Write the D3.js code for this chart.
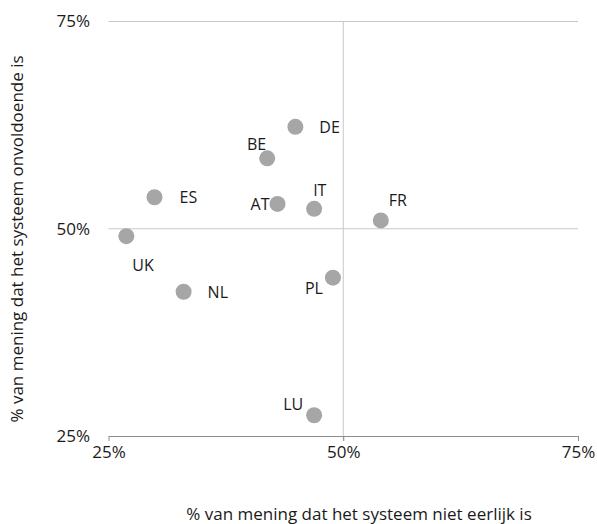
<!DOCTYPE html>
<html lang="nl">
<head>
<meta charset="utf-8">
<script src="https://d3js.org/d3.v7.min.js"></script>
<style>
  body { margin: 0; background: #fff; }
  text { font-family: "Open Sans", sans-serif; fill: #1a1a1a; }
</style>
</head>
<body>
<div id="chart"></div>
<script>
// data
const countries = ["DE", "BE", "ES", "AT", "IT", "FR", "UK", "NL", "PL", "LU"];
const nietEerlijk = [44.9, 41.9, 29.9, 43.0, 46.9, 54.0, 26.9, 33.0, 48.9, 46.9];
const onvoldoende = [62.3, 58.5, 53.8, 53.0, 52.4, 51.0, 49.1, 42.4, 44.1, 27.5];
const ticks = [25, 50, 75];

// label placement per country (dx, dy, anchor)
const labelPos = {
  DE: [24, 1, "start"], BE: [-1, -14, "end"], ES: [25, 0, "start"],
  AT: [-8, 1, "end"], IT: [-1, -18, "start"], FR: [8, -20, "start"],
  UK: [6, 29, "start"], NL: [24, 1, "start"], PL: [-10, 11, "end"],
  LU: [-11, -11, "end"]
};

const W = 597, H = 524;
const fs = "17px";
const svg = d3.select("#chart").append("svg")
  .attr("width", W).attr("height", H);

const x = d3.scaleLinear().domain([25, 75]).range([108.5, 578]);
const y = d3.scaleLinear().domain([25, 75]).range([436, 21.5]);

// horizontal gridlines
svg.selectAll(".hgrid")
  .data([50, 75])
  .join("line")
    .attr("x1", x(25)).attr("x2", x(75))
    .attr("y1", d => y(d)).attr("y2", d => y(d))
    .attr("stroke", "#c8c8c8").attr("stroke-width", 1);

// vertical line at 50%
svg.append("line")
  .attr("x1", x(50)).attr("x2", x(50))
  .attr("y1", y(75)).attr("y2", y(25) + 5)
  .attr("stroke", "#c8c8c8").attr("stroke-width", 1);

// x axis
const xAxis = svg.append("g")
  .attr("transform", `translate(0,${y(25)})`)
  .call(d3.axisBottom(x).tickValues(ticks).tickSize(5).tickSizeOuter(0).tickFormat(d => d + "%"));
xAxis.select(".domain").attr("stroke", "#8c8c8c");
xAxis.selectAll(".tick line").attr("stroke", "#8c8c8c");
xAxis.selectAll(".tick text")
  .attr("y", 10)
  .style("font-size", fs)
  .style("font-family", "Open Sans, sans-serif")
  .attr("fill", "#1a1a1a");

// y tick labels
svg.selectAll(".ylab")
  .data(ticks)
  .join("text")
    .attr("x", 90)
    .attr("y", d => y(d))
    .attr("dy", "0.35em")
    .attr("text-anchor", "end")
    .style("font-size", fs)
    .text(d => d + "%");

// points
const pts = countries.map((c, i) => ({c, x: nietEerlijk[i], y: onvoldoende[i]}));
svg.selectAll(".dot")
  .data(pts)
  .join("circle")
    .attr("cx", d => x(d.x))
    .attr("cy", d => y(d.y))
    .attr("r", 8)
    .attr("fill", "#a6a6a6");

svg.selectAll(".lbl")
  .data(pts)
  .join("text")
    .attr("x", d => x(d.x) + labelPos[d.c][0])
    .attr("y", d => y(d.y) + labelPos[d.c][1])
    .attr("dy", "0.35em")
    .attr("text-anchor", d => labelPos[d.c][2])
    .style("font-size", "16px")
    .text(d => d.c);

// axis titles
svg.append("text")
  .attr("x", 359).attr("y", 514)
  .attr("dy", "0.35em")
  .attr("text-anchor", "middle")
  .style("font-size", fs)
  .text("% van mening dat het systeem niet eerlijk is");

svg.append("text")
  .attr("transform", `translate(17,239) rotate(-90)`)
  .attr("dy", "0.35em")
  .attr("text-anchor", "middle")
  .style("font-size", fs)
  .text("% van mening dat het systeem onvoldoende is");
</script>
</body>
</html>
